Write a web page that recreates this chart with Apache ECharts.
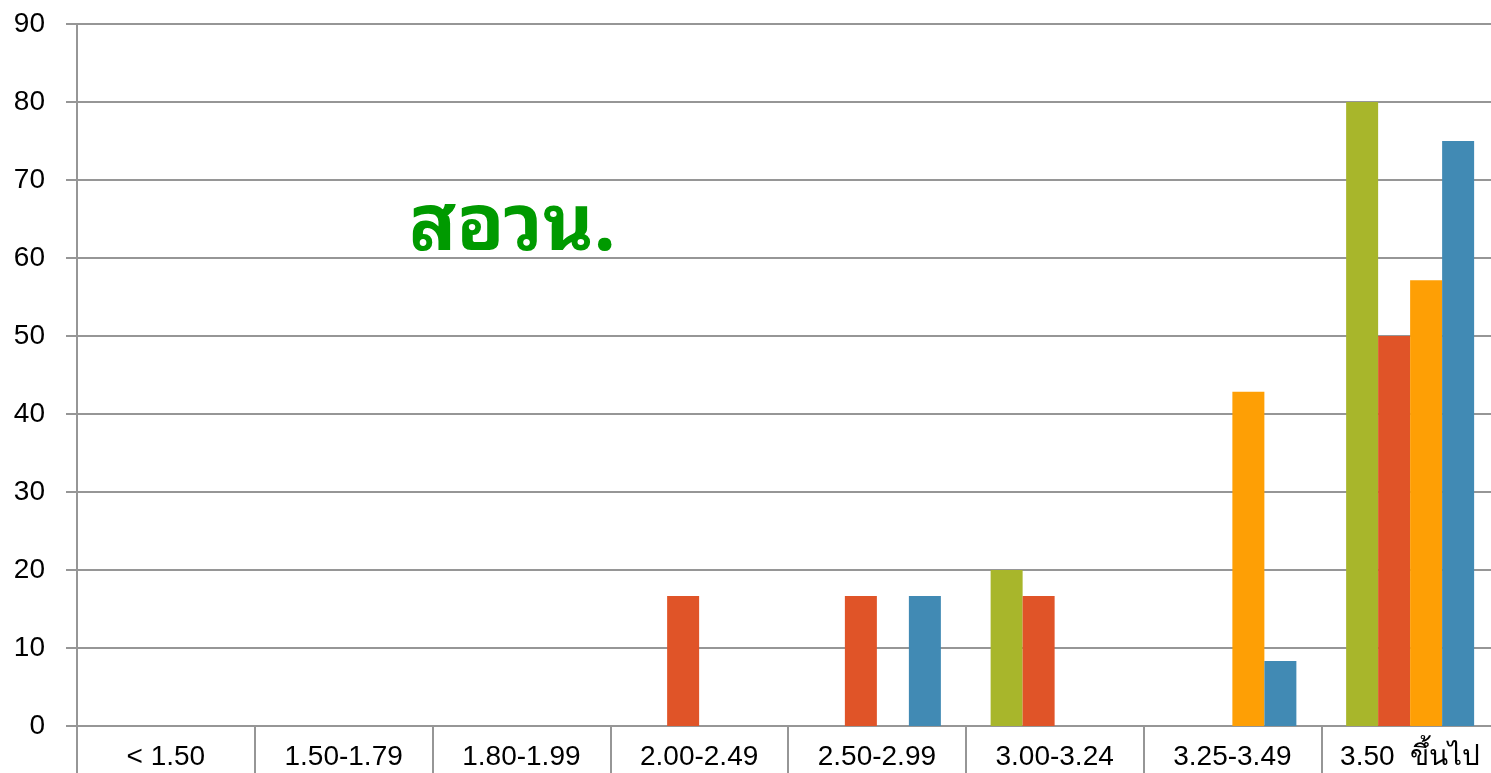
<!DOCTYPE html>
<html>
<head>
<meta charset="utf-8">
<script src="https://cdn.jsdelivr.net/npm/echarts@6/dist/echarts.min.js"></script>
<style>
html, body { margin: 0; padding: 0; background: #fff; }
#chart { width: 1491px; height: 773px; }
</style>
</head>
<body>
<div id="chart"></div>
<script>
var categories = ['< 1.50', '1.50-1.79', '1.80-1.99', '2.00-2.49', '2.50-2.99', '3.00-3.24', '3.25-3.49', '3.50  ขึ้นไป'];
var seriesGreen = [0, 0, 0, 0, 0, 20, 0, 80];
var seriesRed = [0, 0, 0, 16.67, 16.67, 16.67, 0, 50];
var seriesOrange = [0, 0, 0, 0, 0, 0, 42.86, 57.14];
var seriesBlue = [0, 0, 0, 0, 16.67, 0, 8.33, 75];
var yTicks = [0, 10, 20, 30, 40, 50, 60, 70, 80, 90];

var font = '"Liberation Sans", Arial, "Noto Sans", sans-serif';
var thaiFont = '"Noto Sans Thai Looped", Loma, Garuda, Norasi, "Tlwg Typo", "DejaVu Sans", sans-serif';
var gridColor = '#969696';

function bar(name, data, color) {
    return {
        name: name,
        type: 'bar',
        data: data,
        barWidth: 32,
        barGap: '0%',
        itemStyle: { color: color },
        z: 3
    };
}

var option = {
    animation: false,
    title: {
        text: 'สอวน.',
        left: 404,
        top: 184,
        textStyle: {
            color: '#009a00',
            fontSize: 78,
            fontWeight: 'bold',
            fontFamily: thaiFont
        }
    },
    grid: {
        left: 77,
        width: 1422,
        top: 24,
        bottom: 47,
        containLabel: false,
        outerBoundsMode: 'none'
    },
    xAxis: {
        type: 'category',
        data: categories,
        boundaryGap: true,
        axisLine: { lineStyle: { color: gridColor, width: 2 } },
        axisTick: { show: true, length: 47, lineStyle: { color: gridColor, width: 2 } },
        axisLabel: {
            interval: 0,
            margin: 17,
            color: '#000',
            fontSize: 28,
            fontFamily: font
        }
    },
    yAxis: {
        type: 'value',
        min: yTicks[0],
        max: yTicks[yTicks.length - 1],
        interval: 10,
        axisLine: { show: true, lineStyle: { color: gridColor, width: 2 } },
        axisTick: { show: true, length: 11, lineStyle: { color: gridColor, width: 2 } },
        splitLine: { show: true, lineStyle: { color: gridColor, width: 2 } },
        axisLabel: {
            margin: 32,
            color: '#000',
            fontSize: 28,
            fontFamily: font
        }
    },
    series: [
        bar('s1', seriesGreen, '#a8b62b'),
        bar('s2', seriesRed, '#e05428'),
        bar('s3', seriesOrange, '#fe9f05'),
        bar('s4', seriesBlue, '#418ab4')
    ]
};

var myChart = echarts.init(document.getElementById('chart'));
myChart.setOption(option, true);
</script>
</body>
</html>
